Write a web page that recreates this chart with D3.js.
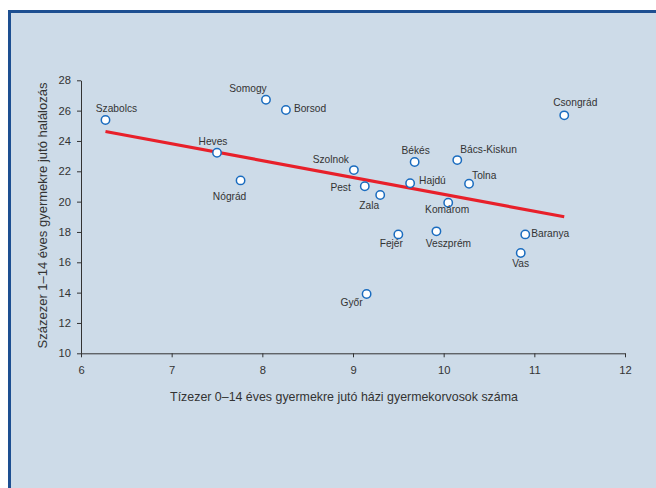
<!DOCTYPE html>
<html>
<head>
<meta charset="utf-8">
<script src="https://cdn.jsdelivr.net/npm/d3@7/dist/d3.min.js"></script>
<style>
  html, body { margin: 0; padding: 0; background: #ffffff; }
  svg { display: block; }
  text { font-family: "Liberation Sans", Arial, Helvetica, sans-serif; fill: #333333; }
</style>
</head>
<body>
<svg id="chart" width="656" height="488"></svg>
<script>
// ---- data ----
const counties = ["Szabolcs","Somogy","Borsod","Heves","Nógrád","Szolnok","Csongrád","Békés","Bács-Kiskun","Pest","Hajdú","Tolna","Zala","Komárom","Fejér","Veszprém","Baranya","Vas","Győr"];
const doctors  = [6.27, 8.04, 8.26, 7.50, 7.76, 9.01, 11.33, 9.68, 10.15, 9.13, 9.63, 10.28, 9.30, 10.05, 9.50, 9.92, 10.90, 10.85, 9.15];
const deaths   = [25.38, 26.72, 26.04, 23.22, 21.40, 22.08, 25.69, 22.61, 22.74, 21.01, 21.21, 21.18, 20.44, 19.93, 17.84, 18.04, 17.84, 16.61, 13.91];
const xTicks = [6, 7, 8, 9, 10, 11, 12];
const yTicks = [10, 12, 14, 16, 18, 20, 22, 24, 26, 28];
const xTitle = "Tízezer 0–14 éves gyermekre jutó házi gyermekorvosok száma";
const yTitle = "Százezer 1–14 éves gyermekre jutó halálozás";

// ---- label placement (layout only) ----
const labelPlace = {
  "Szabolcs":   ["middle", 11, -8],
  "Somogy":     ["middle", -18, -8],
  "Borsod":     ["start", 8, 2],
  "Heves":      ["middle", -4, -8],
  "Nógrád":     ["middle", -11, 20],
  "Szolnok":    ["end", -5, -7],
  "Pest":       ["end", -14, 5],
  "Csongrád":   ["middle", 11, -9],
  "Békés":      ["middle", 1, -8],
  "Bács-Kiskun":["start", 3, -7],
  "Hajdú":      ["start", 9, 1],
  "Tolna":      ["start", 3, -5],
  "Zala":       ["middle", -11, 14],
  "Komárom":    ["middle", -1, 10],
  "Fejér":      ["middle", -7, 13],
  "Veszprém":   ["middle", 12, 16],
  "Baranya":    ["start", 6, 3],
  "Vas":        ["middle", 0, 14],
  "Győr":       ["middle", -15, 12]
};

const svg = d3.select("#chart");

// frame
svg.append("rect")
  .attr("x", 9.5).attr("y", 11.5)
  .attr("width", 700).attr("height", 520)
  .attr("fill", "#cddbe8")
  .attr("stroke", "#1d4f91")
  .attr("stroke-width", 3);

const x = d3.scaleLinear().domain([6, 12]).range([81, 625]);
const y = d3.scaleLinear().domain([10, 28]).range([353.3, 80.3]);

// axes
const xAxis = svg.append("g")
  .attr("transform", `translate(0,${y(10)})`)
  .call(d3.axisBottom(x).tickValues(xTicks).tickFormat(d3.format("d")).tickSize(4).tickSizeOuter(0).tickPadding(9));
const yAxis = svg.append("g")
  .attr("transform", `translate(${x(6)},0)`)
  .call(d3.axisLeft(y).tickValues(yTicks).tickFormat(d3.format("d")).tickSize(4).tickSizeOuter(0).tickPadding(6));

[xAxis, yAxis].forEach(g => {
  g.select(".domain").attr("stroke", "#333333").attr("stroke-width", 1);
  g.selectAll(".tick line").attr("stroke", "#333333");
  g.selectAll(".tick text")
    .attr("fill", "#333333")
    .style("font-family", '"Liberation Sans", Arial, sans-serif')
    .style("font-size", "11.2px");
});

// axis titles
svg.append("text")
  .attr("x", 344).attr("y", 400.5)
  .attr("text-anchor", "middle")
  .style("font-size", "12.4px")
  .text(xTitle);

svg.append("text")
  .attr("transform", `translate(47,${215.5}) rotate(-90)`)
  .attr("text-anchor", "middle")
  .style("font-size", "13px")
  .text(yTitle);

// regression line (OLS fit of the data)
const n = doctors.length;
const mx = d3.mean(doctors), my = d3.mean(deaths);
let sxy = 0, sxx = 0;
for (let i = 0; i < n; i++) {
  sxy += (doctors[i] - mx) * (deaths[i] - my);
  sxx += (doctors[i] - mx) * (doctors[i] - mx);
}
const slope = sxy / sxx, intercept = my - slope * mx;
const [x0, x1] = d3.extent(doctors);
svg.append("line")
  .attr("x1", x(x0)).attr("y1", y(intercept + slope * x0))
  .attr("x2", x(x1)).attr("y2", y(intercept + slope * x1))
  .attr("stroke", "#e8202a")
  .attr("stroke-width", 3.2);

// points
const pts = counties.map((c, i) => ({ name: c, vx: doctors[i], vy: deaths[i] }));
svg.append("g").selectAll("circle")
  .data(pts).join("circle")
  .attr("cx", d => x(d.vx))
  .attr("cy", d => y(d.vy))
  .attr("r", 4.2)
  .attr("fill", "#ffffff")
  .attr("stroke", "#1a6cbf")
  .attr("stroke-width", 1.5);

// labels
svg.append("g").selectAll("text")
  .data(pts).join("text")
  .attr("x", d => x(d.vx) + labelPlace[d.name][1])
  .attr("y", d => y(d.vy) + labelPlace[d.name][2])
  .attr("text-anchor", d => labelPlace[d.name][0])
  .style("font-size", "10.2px")
  .text(d => d.name);
</script>
</body>
</html>
